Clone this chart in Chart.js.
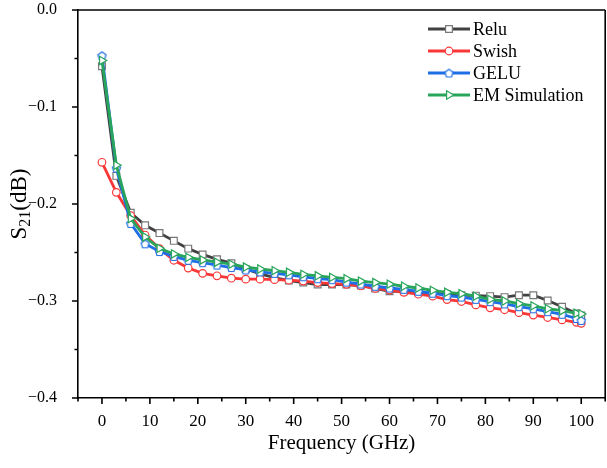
<!DOCTYPE html>
<html>
<head>
<meta charset="utf-8">
<script src="https://cdn.jsdelivr.net/npm/chart.js@4"></script>
<style>
  html, body { margin: 0; padding: 0; background: #fff; overflow: hidden; }
  #wrap { width: 612px; height: 468px; }
</style>
</head>
<body>
<div id="wrap"><canvas id="myChart" width="612" height="468"></canvas></div>
<script>
// frequency points (GHz)
var freqs = [0, 3, 6, 9, 12, 15, 18, 21, 24, 27, 30, 33, 36, 39, 42, 45, 48, 51, 54, 57,
  60, 63, 66, 69, 72, 75, 78, 81, 84, 87, 90, 93, 96, 99, 100];

// S21 (dB) per model
var relu = [-0.058, -0.171, -0.209, -0.222, -0.230, -0.238, -0.246, -0.252, -0.257, -0.261,
  -0.267, -0.272, -0.276, -0.279, -0.281, -0.283, -0.283, -0.283, -0.284, -0.287,
  -0.290, -0.290, -0.291, -0.292, -0.293, -0.294, -0.2945, -0.295, -0.296, -0.294,
  -0.294, -0.2995, -0.306, -0.313, -0.315];
var swish = [-0.157, -0.188, -0.212, -0.232, -0.246, -0.258, -0.266, -0.2715, -0.274, -0.2765,
  -0.2775, -0.2775, -0.278, -0.2785, -0.2795, -0.281, -0.282, -0.2828, -0.2845, -0.287,
  -0.2887, -0.291, -0.293, -0.295, -0.2985, -0.3005, -0.304, -0.307, -0.309, -0.312,
  -0.3145, -0.317, -0.3195, -0.322, -0.323];
var gelu = [-0.047, -0.163, -0.220, -0.241, -0.249, -0.254, -0.258, -0.2605, -0.263, -0.2655,
  -0.268, -0.270, -0.2715, -0.273, -0.275, -0.277, -0.278, -0.2805, -0.2825, -0.2848,
  -0.2866, -0.288, -0.290, -0.292, -0.2945, -0.296, -0.2983, -0.3007, -0.303, -0.3058,
  -0.308, -0.311, -0.3137, -0.318, -0.320];
var emSim = [-0.052, -0.160, -0.215, -0.234, -0.2457, -0.2515, -0.255, -0.2577, -0.260, -0.262,
  -0.265, -0.267, -0.2687, -0.2704, -0.2725, -0.274, -0.2756, -0.277, -0.2795, -0.281,
  -0.2826, -0.2848, -0.2866, -0.289, -0.291, -0.2925, -0.295, -0.2983, -0.300, -0.3027,
  -0.305, -0.308, -0.310, -0.3127, -0.3134];

var seriesNames = ["Relu", "Swish", "GELU", "EM Simulation"];
var xTicks = [0, 10, 20, 30, 40, 50, 60, 70, 80, 90, 100];
var yTicks = [-0.4, -0.3, -0.2, -0.1, 0.0];

var serif = "'Liberation Serif', 'Times New Roman', serif";

function pts(ys) {
  return freqs.map(function (f, i) { return { x: f, y: ys[i] }; });
}

// open pentagon marker for GELU
function pentagon(color) {
  var c = document.createElement('canvas');
  c.width = 11; c.height = 11;
  var g = c.getContext('2d');
  g.beginPath();
  for (var k = 0; k < 5; k++) {
    var a = -Math.PI / 2 + k * 2 * Math.PI / 5;
    var px = 5.5 + 4.3 * Math.cos(a), py = 6 + 4.3 * Math.sin(a);
    if (k === 0) g.moveTo(px, py); else g.lineTo(px, py);
  }
  g.closePath();
  g.fillStyle = '#fff';
  g.fill();
  g.lineWidth = 1.2;
  g.strokeStyle = color;
  g.stroke();
  return c;
}

var data = {
  datasets: [
    {
      label: seriesNames[0], data: pts(relu), order: 4,
      borderColor: 'rgb(65, 65, 65)', borderWidth: 2.8,
      pointStyle: 'rect', pointRadius: 4.8, pointBorderWidth: 1.2,
      pointBorderColor: 'rgb(120, 120, 120)', pointBackgroundColor: '#fff'
    },
    {
      label: seriesNames[1], data: pts(swish), order: 3,
      borderColor: 'rgb(250, 55, 55)', borderWidth: 2.8,
      pointStyle: 'circle', pointRadius: 3.8, pointBorderWidth: 1.2,
      pointBorderColor: 'rgb(250, 55, 55)', pointBackgroundColor: '#fff'
    },
    {
      label: seriesNames[2], data: pts(gelu), order: 2,
      borderColor: 'rgb(30, 110, 230)', borderWidth: 2.8,
      pointStyle: pentagon('rgb(30, 110, 230)'), pointRadius: 4,
      pointBorderColor: 'rgb(30, 110, 230)', pointBackgroundColor: '#fff'
    },
    {
      label: seriesNames[3], data: pts(emSim), order: 1,
      borderColor: 'rgb(40, 165, 90)', borderWidth: 2.8,
      pointStyle: 'triangle', pointRotation: 90, pointRadius: 4.8, pointBorderWidth: 1.2,
      pointBorderColor: 'rgb(40, 165, 90)', pointBackgroundColor: '#fff'
    }
  ]
};

// ticks, frame, legend and y title
var decor = {
  id: 'decor',
  afterDraw: function (chart) {
    var ctx = chart.ctx, a = chart.chartArea;
    var xs = chart.scales.x, ys = chart.scales.y;
    ctx.save();
    ctx.strokeStyle = '#000';
    ctx.lineWidth = 1.6;
    ctx.beginPath();
    ctx.moveTo(a.left, a.top); ctx.lineTo(a.right, a.top);
    ctx.moveTo(a.right, a.top); ctx.lineTo(a.right, a.bottom);
    for (var v = -5; v <= 105; v += 5) {
      var px = xs.getPixelForValue(v);
      var len = (v % 10 === 0) ? 6 : 3.5;
      ctx.moveTo(px, a.bottom); ctx.lineTo(px, a.bottom + len);
    }
    for (var k = 0; k <= 8; k++) {
      var py = ys.getPixelForValue(-0.4 + k * 0.05);
      var l2 = (k % 2 === 0) ? 6 : 3.5;
      ctx.moveTo(a.left, py); ctx.lineTo(a.left - l2, py);
    }
    ctx.stroke();

    // legend: line sample + marker + name
    chart.data.datasets.forEach(function (ds, i) {
      var y = 29 + i * 22;
      ctx.strokeStyle = ds.borderColor;
      ctx.lineWidth = 2.8;
      ctx.beginPath();
      ctx.moveTo(428, y); ctx.lineTo(470, y);
      ctx.stroke();
      ctx.strokeStyle = ds.pointBorderColor;
      ctx.fillStyle = ds.pointBackgroundColor;
      ctx.lineWidth = ds.pointBorderWidth || 1.2;
      Chart.helpers.drawPoint(ctx, {
        pointStyle: ds.pointStyle, rotation: ds.pointRotation || 0,
        radius: ds.pointRadius, borderWidth: ds.pointBorderWidth || 1.2
      }, 449, y);
      ctx.fillStyle = '#000';
      ctx.font = '18px ' + serif;
      ctx.textAlign = 'left';
      ctx.textBaseline = 'middle';
      ctx.fillText(ds.label, 473, y + 1);
    });

    // y title with subscript
    ctx.translate(20, (a.top + a.bottom) / 2);
    ctx.rotate(-Math.PI / 2);
    ctx.fillStyle = '#000';
    ctx.textBaseline = 'middle';
    ctx.textAlign = 'left';
    var big = '23px ' + serif, small = '16px ' + serif;
    ctx.font = big; var w1 = ctx.measureText('S').width;
    var w3 = ctx.measureText('(dB)').width;
    ctx.font = small; var w2 = ctx.measureText('21').width;
    var x0 = -(w1 + w2 + w3) / 2;
    ctx.font = big; ctx.fillText('S', x0, 0);
    ctx.font = small; ctx.fillText('21', x0 + w1, 6);
    ctx.font = big; ctx.fillText('(dB)', x0 + w1 + w2, 0);
    ctx.restore();
  }
};

var options = {
  responsive: false,
  animation: false,
  layout: { padding: { top: 10, right: 2, left: 0, bottom: 0 } },
  plugins: {
    legend: { display: false },
    tooltip: { enabled: false }
  },
  scales: {
    x: {
      type: 'linear', min: -5, max: 105,
      grid: { display: false },
      border: { display: true, color: '#000', width: 1.6 },
      afterBuildTicks: function (scale) {
        scale.ticks = xTicks.map(function (v) { return { value: v }; });
      },
      afterFit: function (scale) {
        scale.height = 70;
        scale.paddingLeft = 0; scale.paddingRight = 0;
      },
      ticks: {
        color: '#000', padding: 5, maxRotation: 0,
        font: { family: serif, size: 17 },
        callback: function (v) { return String(v); }
      },
      title: {
        display: true, text: 'Frequency (GHz)', color: '#000',
        font: { family: serif, size: 21 }, padding: { top: 4, bottom: 12 }
      }
    },
    y: {
      type: 'linear', min: -0.4, max: 0,
      grid: { display: false },
      border: { display: true, color: '#000', width: 1.6 },
      afterBuildTicks: function (scale) {
        scale.ticks = yTicks.map(function (v) { return { value: v }; });
      },
      afterFit: function (scale) {
        scale.width = 78;
        scale.paddingTop = 0; scale.paddingBottom = 0;
      },
      ticks: {
        color: '#000', padding: 13,
        font: { family: serif, size: 16 },
        callback: function (v) {
          var s = Math.abs(v).toFixed(1);
          return v < -1e-9 ? '\u2212' + s : s;
        }
      }
    }
  }
};

var ctx = document.getElementById('myChart').getContext('2d');
var myChart = new Chart(ctx, {
  type: 'line',
  data: data,
  options: options,
  plugins: [decor]
});
</script>
</body>
</html>
